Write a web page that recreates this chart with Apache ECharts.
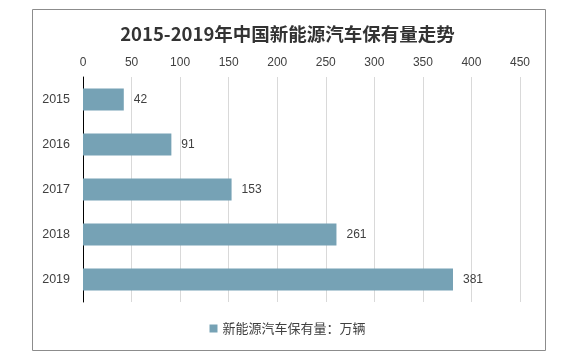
<!DOCTYPE html>
<html><head><meta charset="utf-8">
<script src="https://cdn.jsdelivr.net/npm/echarts@6/dist/echarts.min.js"></script>
<style>html,body{margin:0;padding:0;background:#fff}#c{width:575px;height:357px}</style>
</head><body><div id="c"></div>
<script>
const categories = ['2015','2016','2017','2018','2019'];
const values = [42, 91, 153, 261, 381];
const seriesName = '新能源汽车保有量：万辆';
const titleText = '2015-2019年中国新能源汽车保有量走势';
const xMin = 0, xMax = 450, xInterval = 50;

const chart = echarts.init(document.getElementById('c'), null, {renderer:'canvas'});
const font = '"Microsoft YaHei","Noto Sans CJK SC","DejaVu Sans",sans-serif';
chart.setOption({
  animation:false,
  backgroundColor:'#fff',
  graphic:[{type:'rect',shape:{x:32.5,y:9.5,width:513,height:341},style:{fill:'none',stroke:'#8c8c8c',lineWidth:1},silent:true}],
  title:{text:titleText,left:'center',top:20,textStyle:{fontSize:18.5,fontWeight:'bold',color:'#333',fontFamily:font}},
  legend:{bottom:17,left:'center',itemWidth:8,itemHeight:8,itemGap:4,icon:'rect',
    textStyle:{fontSize:13,color:'#404040',fontFamily:font},data:[seriesName]},
  grid:{left:83,right:55,top:77,bottom:55,containLabel:false},
  xAxis:{type:'value',position:'top',min:xMin,max:xMax,interval:xInterval,
    axisLine:{show:false},axisTick:{show:false},
    axisLabel:{color:'#404040',fontSize:12,margin:8,fontFamily:'"Liberation Sans",Arial,sans-serif'},
    splitLine:{lineStyle:{color:'#d9d9d9',width:1}}},
  yAxis:{type:'category',inverse:true,data:categories,
    axisLine:{lineStyle:{color:'#000',width:1}},axisTick:{show:false},
    axisLabel:{color:'#404040',fontSize:12.5,margin:13,fontFamily:'"Liberation Sans",Arial,sans-serif'}},
  series:[{name:seriesName,type:'bar',data:values,barWidth:22,
    itemStyle:{color:'#76a2b5'},
    label:{show:true,position:'right',distance:10,color:'#404040',fontSize:12,fontFamily:'"Liberation Sans",Arial,sans-serif'}}]
});
</script></body></html>
